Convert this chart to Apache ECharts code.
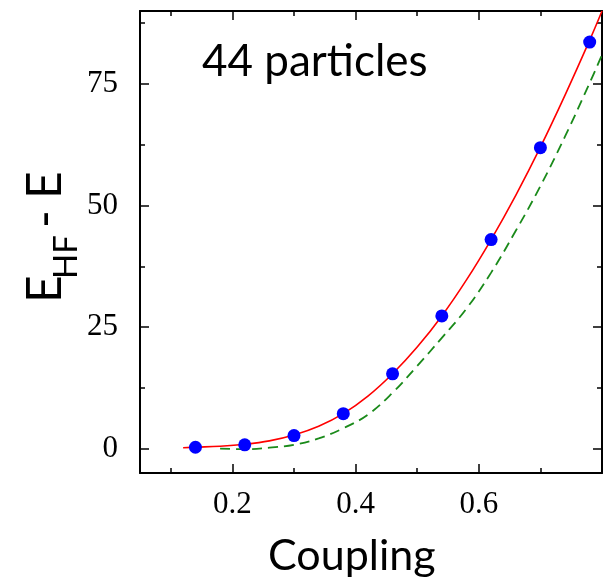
<!DOCTYPE html>
<html>
<head>
<meta charset="utf-8">
<script src="https://cdn.jsdelivr.net/npm/echarts@6/dist/echarts.min.js"></script>
<style>
  html, body { margin: 0; padding: 0; background: #fff; }
  #main { width: 605px; height: 582px; }
</style>
</head>
<body>
<div id="main"></div>
<script>
var myChart = echarts.init(document.getElementById('main'));

// data points (blue dots)
var pointX = [0.14, 0.22, 0.30, 0.38, 0.46, 0.54, 0.62, 0.70, 0.78];
var pointY = [0.3, 0.8, 2.7, 7.2, 15.4, 27.3, 43.0, 61.9, 83.6];

// red curve
var redX = [0.12, 0.14, 0.18, 0.22, 0.26, 0.30, 0.34, 0.38, 0.42, 0.46, 0.50, 0.54, 0.58, 0.62, 0.66, 0.70, 0.74, 0.78, 0.80];
var redY = [0.2, 0.3, 0.5, 0.9, 1.6, 2.8, 4.6, 7.2, 10.8, 15.4, 20.9, 27.3, 34.7, 43.0, 52.1, 62.0, 72.7, 84.0, 90.0];

// green dashed curve
var greenX = [0.18, 0.22, 0.26, 0.30, 0.34, 0.38, 0.42, 0.46, 0.50, 0.54, 0.58, 0.62, 0.66, 0.70, 0.74, 0.78, 0.80];
var greenY = [0.0, -0.1, 0.2, 0.8, 2.1, 4.2, 7.0, 11.5, 17.0, 22.8, 28.8, 36.2, 44.8, 54.0, 64.2, 75.2, 81.0];

// ticks
var xMajor = [0.2, 0.4, 0.6];
var xMinor = [0.1, 0.3, 0.5, 0.7];
var yMajor = [0, 25, 50, 75];
var yMinor = [12.5, 37.5, 62.5, 87.5];

function zip(xs, ys) {
    return xs.map(function (x, i) { return [x, ys[i]]; });
}

function xAx(pos, ticks, len, labels, line) {
    return {
        type: 'value', position: pos, min: 0.05, max: 0.8,
        axisLine: { show: line, onZero: false, lineStyle: { color: '#000', width: 2 } },
        axisTick: { show: true, inside: true, length: len, customValues: ticks, lineStyle: { color: '#000', width: 1.5 } },
        axisLabel: labels ? {
            show: true, customValues: ticks, margin: 16,
            fontFamily: 'Liberation Serif', fontSize: 31, color: '#000'
        } : { show: false },
        splitLine: { show: false }
    };
}

function yAx(pos, ticks, len, labels, line) {
    return {
        type: 'value', position: pos, min: -5, max: 90,
        axisLine: { show: line, onZero: false, lineStyle: { color: '#000', width: 2 } },
        axisTick: { show: true, inside: true, length: len, customValues: ticks, lineStyle: { color: '#000', width: 1.5 } },
        axisLabel: labels ? {
            show: true, customValues: ticks, margin: 22,
            fontFamily: 'Liberation Serif', fontSize: 31, color: '#000'
        } : { show: false },
        splitLine: { show: false }
    };
}

var option = {
    animation: false,
    backgroundColor: '#fff',
    grid: { left: 140, right: 3, top: 11, bottom: 109 },
    xAxis: [
        xAx('bottom', xMajor, 9, true, true),
        xAx('bottom', xMinor, 5, false, false),
        xAx('top', xMajor, 9, false, true),
        xAx('top', xMinor, 5, false, false)
    ],
    yAxis: [
        yAx('left', yMajor, 9, true, true),
        yAx('left', yMinor, 5, false, false),
        yAx('right', yMajor, 9, false, true),
        yAx('right', yMinor, 5, false, false)
    ],
    graphic: [
        {
            type: 'text', left: 202, top: 40,
            style: { text: '44 particles', fontFamily: 'Lato', fontSize: 44, fill: '#000' }
        },
        {
            type: 'text', left: 268, top: 535,
            style: { text: 'Coupling', fontFamily: 'Lato', fontSize: 43, fill: '#000' }
        },
        {
            type: 'group', x: 46, y: 240, rotation: Math.PI / 2,
            children: [
                { type: 'text', x: -63, y: 0, style: { text: 'E', fontFamily: 'Lato', fontSize: 48, fill: '#000', align: 'left', verticalAlign: 'middle' } },
                { type: 'text', x: -39, y: 20, style: { text: 'HF', fontFamily: 'Lato', fontSize: 33, fill: '#000', align: 'left', verticalAlign: 'middle' } },
                { type: 'text', x: 12, y: 0, style: { text: '-', fontFamily: 'Lato', fontSize: 48, fill: '#000', align: 'left', verticalAlign: 'middle' } },
                { type: 'text', x: 41, y: 0, style: { text: 'E', fontFamily: 'Lato', fontSize: 48, fill: '#000', align: 'left', verticalAlign: 'middle' } }
            ]
        }
    ],
    series: [
        {
            type: 'line', data: zip(greenX, greenY), smooth: 0.4, showSymbol: false,
            lineStyle: { color: '#1a8a1a', width: 1.8, type: [10, 6] }
        },
        {
            type: 'line', data: zip(redX, redY), smooth: 0.4, showSymbol: false,
            lineStyle: { color: '#ff0000', width: 1.6 }
        },
        {
            type: 'scatter', data: zip(pointX, pointY), symbolSize: 13,
            itemStyle: { color: '#0000ff', opacity: 1 }, z: 5
        }
    ]
};

myChart.setOption(option);
</script>
</body>
</html>
